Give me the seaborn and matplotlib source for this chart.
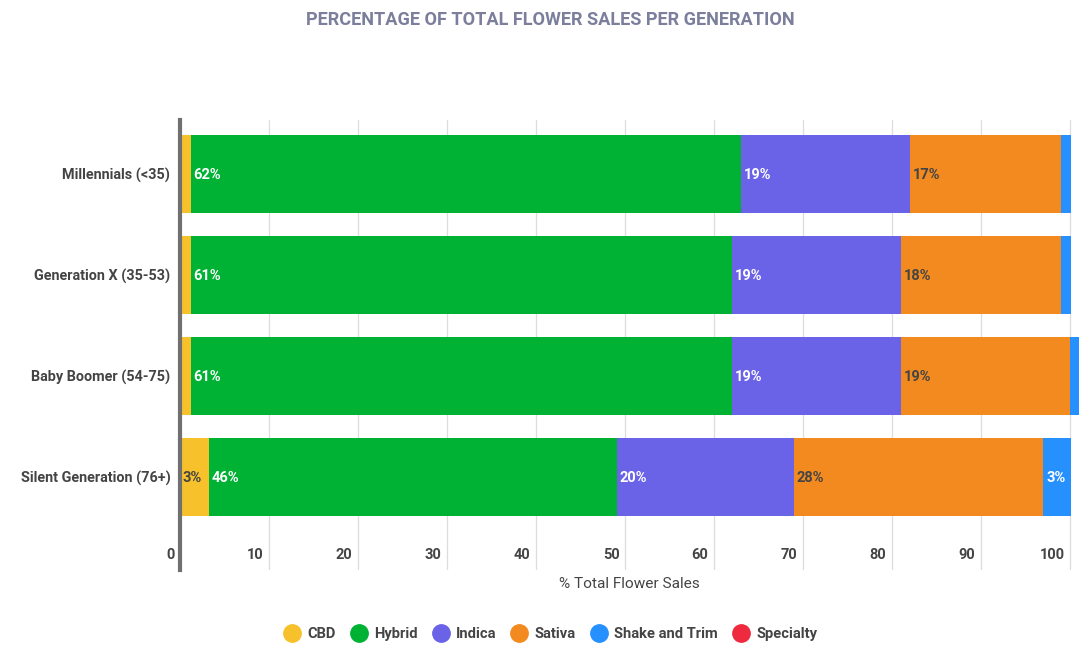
import matplotlib
matplotlib.use("Agg")
import matplotlib.pyplot as plt
import matplotlib.transforms as mtransforms
from matplotlib.lines import Line2D
import seaborn as sns
import pandas as pd
import numpy as np

generations = ["Millennials (<35)", "Generation X (35-53)", "Baby Boomer (54-75)", "Silent Generation (76+)"]
series = ["CBD", "Hybrid", "Indica", "Sativa", "Shake and Trim", "Specialty"]
cbd = [1.2, 1.2, 1.2, 3.3]
hybrid = [61.8, 60.8, 60.8, 45.8]
indica = [19.0, 19.0, 19.0, 19.9]
sativa = [17.0, 18.0, 19.0, 28.0]
shake = [1.1, 1.1, 1.0, 3.1]
specialty = [0.0, 0.0, 0.0, 0.0]
xticks = [0, 10, 20, 30, 40, 50, 60, 70, 80, 90, 100]

colors = ["#f6c12b", "#00b234", "#6a63e8", "#f38a1f", "#2690ff", "#ee2a3f"]
label_colors = ["#444444", "white", "white", "#444444", "white", "white"]

values = [cbd, hybrid, indica, sativa, shake, specialty]

sns.set_theme(style="white")
plt.rcParams['font.family'] = ['Roboto', 'DejaVu Sans']

fig = plt.figure(figsize=(10.91, 6.57), dpi=100)
ax = fig.add_axes([180/1091, 1-570/657, 899/1091, 450/657])

cum = np.cumsum(np.array(values), axis=0)
df_rows = []
for si, s in enumerate(series):
    for gi, g in enumerate(generations):
        df_rows.append({"series": s, "generation": g, "value": values[si][gi],
                        "cum": cum[si][gi], "start": cum[si][gi] - values[si][gi]})
df = pd.DataFrame(df_rows)

# draw stacked by overlaying cumulative totals, largest first
for si in range(len(series) - 1, -1, -1):
    sub = df[df["series"] == series[si]]
    sns.barplot(data=sub, x="cum", y="generation", order=generations, color=colors[si],
                orient="h", width=0.78, ax=ax, saturation=1, linewidth=0, errorbar=None)

# value labels
for _, r in df.iterrows():
    if r["value"] >= 2.5:
        si = series.index(r["series"])
        gi = generations.index(r["generation"])
        ax.text(r["start"] + 0.3, gi + 0.01, f"{round(r['value'])}%", ha="left", va="center",
                color=label_colors[si], fontsize=10.5, fontweight="bold")

ax.set_xlim(0, 101)
ax.set_ylim(3.92, -0.535)
ax.set_xticks(xticks)
ax.set_xticklabels([str(t) for t in xticks])
ax.grid(axis="x", color="#dddddd", linewidth=0.9)
ax.grid(axis="y", visible=False)
ax.set_axisbelow(True)
for sp in ["top", "right", "bottom"]:
    ax.spines[sp].set_visible(False)
ax.spines["left"].set_color("#707070")
ax.spines["left"].set_linewidth(3)
ax.spines["left"].set_zorder(5)

ax.tick_params(axis="x", length=0, pad=-16, labelsize=10.5, labelcolor="#444444")
ax.tick_params(axis="y", length=0, pad=7, labelsize=10.4, labelcolor="#444444")
offset = mtransforms.ScaledTranslation(-4/72, 0, fig.dpi_scale_trans)
for lab in ax.get_xticklabels():
    lab.set_horizontalalignment("right")
    lab.set_transform(lab.get_transform() + offset)
    lab.set_fontweight("bold")
for lab in ax.get_yticklabels():
    lab.set_fontweight("bold")

ax.set_ylabel("")
ax.set_xlabel("% Total Flower Sales", fontsize=11.1, color="#444444", labelpad=5)

fig.text(0.504, 1-20/657, "PERCENTAGE OF TOTAL FLOWER SALES PER GENERATION", ha="center", va="center",
         fontsize=13.1, fontweight="bold", color="#7b7f9c")

handles = [Line2D([0], [0], marker="o", linestyle="", markersize=12.5, markerfacecolor=c,
                  markeredgecolor=c) for c in colors]
leg = fig.legend(handles, series, loc="center", bbox_to_anchor=(0.504, 1-634/657), ncol=6,
                 frameon=False, fontsize=10.6, handletextpad=0.4, columnspacing=0.9,
                 handlelength=1.3)
for t in leg.get_texts():
    t.set_color("#444444")
    t.set_fontweight("bold")

fig.savefig("out.png", dpi=100)
